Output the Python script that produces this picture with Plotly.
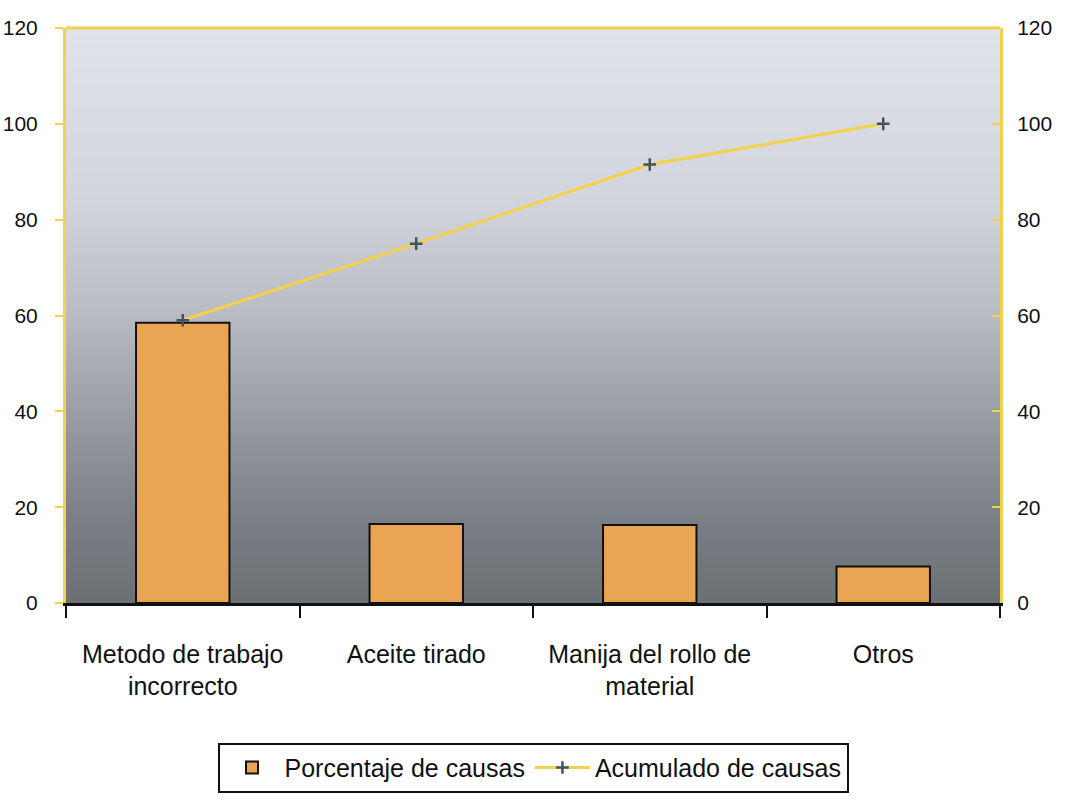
import plotly.graph_objects as go

categories = ["Metodo de trabajo<br>incorrecto", "Aceite tirado", "Manija del rollo de<br>material", "Otros"]
porcentaje = [58.5, 16.5, 16.3, 7.6]
acumulado = [59.0, 75.0, 91.5, 100.0]
y_ticks = [0, 20, 40, 60, 80, 100, 120]

FONT = "Liberation Sans Narrow, Liberation Sans, Arial"
YELLOW = "#f2d24a"

fig = go.Figure()
fig.add_trace(go.Bar(
    x=categories, y=porcentaje, name="Porcentaje de causas",
    marker=dict(color="#e9a553", line=dict(color="#111111", width=2)),
    width=0.4, yaxis="y",
))
fig.add_trace(go.Scatter(
    x=categories, y=acumulado, name="Acumulado de causas", mode="lines+markers",
    line=dict(color=YELLOW, width=3),
    marker=dict(symbol="cross-thin", size=9, color="#3f5566", line=dict(color="#3f5566", width=2.5)),
    yaxis="y2",
))

# vertical gradient background (plot area)
stops = [(0.0, (106, 112, 116)), (0.15, (122, 128, 133)), (0.3, (148, 153, 159)),
         (0.5, (184, 188, 194)), (0.7, (210, 213, 219)), (1.0, (224, 227, 233))]
def col(t):
    for (a, ca), (b, cb) in zip(stops[:-1], stops[1:]):
        if a <= t <= b:
            f = (t - a) / (b - a)
            return "rgb(%d,%d,%d)" % tuple(round(ca[i] + (cb[i] - ca[i]) * f) for i in range(3))
    return "rgb(%d,%d,%d)" % stops[-1][1]
n = 100
shapes = []
for i in range(n):
    y0 = i / n
    y1 = (i + 1) / n
    shapes.append(dict(type="rect", xref="paper", yref="paper", x0=0, x1=1, y0=y0, y1=y1 + 0.002,
                       fillcolor=col((y0 + y1) / 2), line=dict(width=0), layer="below"))
# top border
shapes.append(dict(type="line", xref="paper", yref="paper", x0=0, x1=1, y0=1, y1=1,
                   line=dict(color=YELLOW, width=3)))

fig.update_layout(
    width=1066, height=806,
    margin=dict(l=66, r=66, t=28, b=203, autoexpand=False),
    paper_bgcolor="white", plot_bgcolor="#b8bcc2",
    font=dict(family=FONT, size=24, color="#111111"),
    shapes=shapes,
    bargap=0.6,
    showlegend=True,
    legend=dict(orientation="h", x=0.5, xanchor="center", y=-0.243, yanchor="top",
                bordercolor="#111111", borderwidth=2, bgcolor="white",
                font=dict(family=FONT, size=25, color="#111111"), itemwidth=55),
    xaxis=dict(
        showline=True, linecolor="#111111", linewidth=2.5,
        ticks="outside", ticklen=12, tickwidth=2, tickcolor="#111111",
        tickson="boundaries", showgrid=False, ticklabelstandoff=27, automargin=False,
        tickfont=dict(family=FONT, size=25, color="#111111"),
    ),
    yaxis=dict(
        range=[0, 120], tickvals=y_ticks, showgrid=False, zeroline=False,
        showline=True, linecolor=YELLOW, linewidth=3,
        ticks="outside", ticklen=8, tickwidth=2, tickcolor=YELLOW,
        ticklabelstandoff=13, automargin=False,
        tickfont=dict(family=FONT, size=21, color="#111111"),
    ),
    yaxis2=dict(
        range=[0, 120], tickvals=y_ticks, overlaying="y", side="right",
        showgrid=False, zeroline=False,
        showline=True, linecolor=YELLOW, linewidth=3,
        ticks="inside", ticklen=8, tickwidth=2, tickcolor=YELLOW,
        ticklabelstandoff=10, automargin=False,
        tickfont=dict(family=FONT, size=21, color="#111111"),
    ),
)

fig.write_html("out.html", config={"displayModeBar": False},
               post_script="document.body.style.margin='0';document.body.style.overflow='hidden';")
